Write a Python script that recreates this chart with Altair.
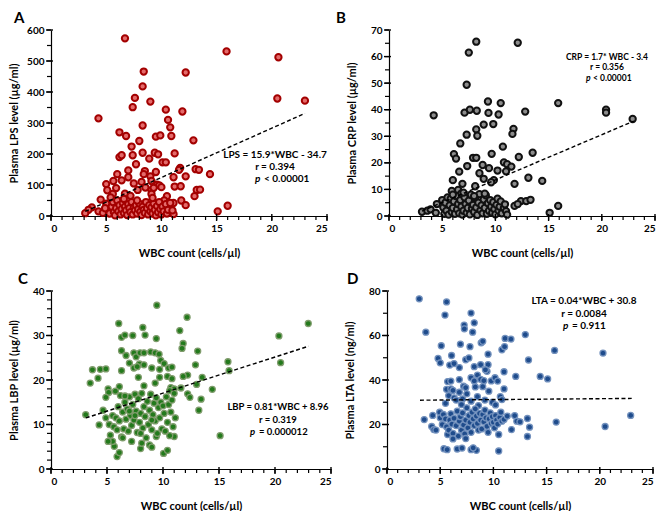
import altair as alt
import pandas as pd

FONT = "Lato"

# ---------------- data ----------------
lps_x = [6.7,15.9,20.6,8.4,12.2,8.3,7.6,9.0,7.4,20.5,23.0,4.3,10.4,11.9,10.6,8.3,10.8,6.2,6.8,10.9,9.5,9.9,12.9,8.0,7.3,11.2,6.2,6.4,7.4,8.3,9.4,9.7,10.1,10.4,8.9,7.7,11.7,11.6,13.1,13.4,14.4,6.0,8.5,8.4,7.0,9.5,9.0,11.1,12.2,7.0,6.4,5.65,8.2,9.6,9.8,5.0,7.5,9.1,5.9,5.1,9.1,8.55,9.3,10.0,11.2,11.75,13.2,13.5,7.85,6.7,5.6,9.1,10.5,13.0,4.5,7.2,11.8,10.25,11.1,12.2,16.0,15.1,3.7,3.4,4.3,3.1,11.1,
         5.0,5.2,5.3,5.5,5.6,5.7,5.8,5.9,6.0,6.1,6.2,6.3,6.4,6.5,6.6,6.7,6.8,6.9,7.0,7.1,7.2,7.3,7.4,7.5,7.6,7.7,7.8,7.9,8.0,8.1,8.2,8.3,8.4,8.5,8.6,8.7,8.8,8.9,9.0,9.1,9.2,9.3,9.4,9.5,9.6,9.7,9.8,9.9,10.0,10.1,10.2,10.4,10.5,10.6,10.8,11.0,5.4,6.6,7.8,9.2,4.7,4.9]
lps_y = [573,531,512,466,463,418,381,369,351,379,372,315,343,337,310,292,286,270,258,258,256,260,244,242,224,202,190,196,196,204,204,199,173,173,185,167,155,149,151,149,135,135,145,135,147,142,128,125,128,125,115,113,110,101,99,103,105,113,90,83,83,92,91,93,95,96,84,85,84,72,71,71,64,64,53,65,50,50,42,35,33,15,28,20,15,9,6,
         40,20,8,30,45,12,2,25,50,15,35,5,22,42,10,30,18,3,38,25,12,45,5,28,18,35,8,22,40,14,3,30,20,10,45,25,5,35,15,28,8,40,20,2,32,12,45,22,5,30,15,38,8,20,42,18,60,55,50,58,10,25]

crp_x = [8.2,12.1,7.5,7.3,15.9,9.3,10.5,4.2,7.1,7.6,8.25,9.35,10.3,12.8,20.4,20.4,22.9,8.9,9.8,11.7,11.6,8.2,8.3,7.3,6.7,10.7,6.1,6.3,9.65,13.5,12.2,7.9,8.2,7.35,8.8,9.4,10.8,11.1,11.5,11.0,10.2,6.6,8.5,14.4,13.1,6.0,8.9,9.85,9.6,11.8,6.9,5.9,6.5,6.8,8.1,12.4,12.9,13.3,11.8,12.1,15.9,15.1,3.1,3.6,3.9,4.4,4.5,
         5.0,5.1,5.2,5.3,5.4,5.5,5.6,5.7,5.8,5.9,6.0,6.1,6.2,6.3,6.4,6.5,6.6,6.7,6.8,6.9,7.0,7.1,7.2,7.3,7.4,7.5,7.6,7.7,7.8,7.9,8.0,8.1,8.2,8.3,8.4,8.5,8.6,8.7,8.8,8.9,9.0,9.1,9.2,9.3,9.4,9.5,9.6,9.7,9.8,9.9,10.0,10.1,10.2,10.3,10.4,10.5,10.6,10.8,10.9,11.0,11.1,7.0,8.0,9.0,6.0]
crp_y = [65.6,65.2,61.5,49.4,42.5,43.1,42.5,37.9,38.9,40.0,39.6,38.8,38.2,39.3,40.0,38.9,36.5,34.4,34.6,32.8,30.9,32.6,30.2,30.6,27.3,26.1,23.3,21.6,23.4,23.8,22.2,21.9,21.9,18.8,19.2,18.0,20.2,19.5,18.6,16.8,17.1,16.7,16.1,13.2,14.4,13.5,14.0,13.5,12.7,12.1,12.1,9.4,9.8,8.5,11.2,5.6,5.6,6.1,3.8,4.5,3.8,1.2,1.6,2.0,2.5,1.2,4.5,
         6.0,3.2,0.8,5.0,2.0,7.0,0.5,4.0,6.5,1.5,3.0,5.5,0.8,7.5,2.5,4.5,1.0,6.0,3.5,0.5,2.0,7.0,4.5,1.2,3.0,5.8,0.6,8.0,2.8,4.2,1.5,6.8,3.2,0.4,5.0,8.2,2.2,4.0,1.0,6.2,3.0,7.8,0.8,4.8,2.0,6.0,3.5,1.2,5.2,2.6,0.6,4.2,6.5,2.0,3.5,5.5,1.0,3.0,4.4,1.8,0.5,8.8,7.5,8.4,8.0]

lbp_x = [9.45,12.15,6.05,8.2,22.97,11.5,6.3,6.6,7.3,8.4,9.4,20.35,11.8,11.7,6.3,7.4,7.6,7.95,8.3,8.9,9.3,9.65,13.1,6.7,9.8,10.1,7.0,7.9,8.3,12.9,15.8,20.5,7.4,7.7,6.3,9.0,9.7,10.5,10.8,3.7,4.4,4.9,15.9,12.2,4.2,7.8,9.7,10.4,10.8,11.8,13.5,3.5,9.3,8.3,13.0,5.1,5.15,6.1,5.75,10.7,11.0,11.6,14.4,12.2,10.6,3.1,15.1,13.2,13.4,12.4,11.1,4.3,4.9,4.65,4.9,5.9,6.1,5.65,5.5,5.1,5.3,8.0,8.1,8.8,9.0,7.2,9.4,10.05,10.4,11.0,
         5.2,5.5,5.6,5.8,5.9,6.0,6.1,6.2,6.3,6.4,6.5,6.6,6.7,6.8,6.9,7.0,7.1,7.2,7.3,7.4,7.5,7.6,7.7,7.8,7.9,8.0,8.1,8.2,8.3,8.4,8.5,8.6,8.7,8.8,8.9,9.0,9.1,9.2,9.3,9.4,9.5,9.6,9.7,9.8,9.9,10.0,10.1,10.2,10.3,10.4,10.5,10.6,10.7,10.8,10.9,11.0,6.6,7.0,8.0,9.0,6.4,7.5]
lbp_y = [36.8,34.1,32.7,31.8,32.7,31.1,29.6,30.1,30.0,30.1,29.3,29.9,28.2,27.1,26.6,26.1,25.2,26.1,26.1,26.3,26.1,25.8,26.5,25.5,24.4,23.7,23.8,23.6,23.4,23.4,24.1,23.9,22.7,23.0,22.1,22.7,22.4,22.7,22.9,22.3,22.4,22.5,22.1,21.1,20.4,20.6,20.6,20.8,20.3,20.8,20.6,19.3,19.3,18.7,19.0,18.0,17.2,18.5,17.5,18.3,18.0,18.2,17.9,16.9,17.6,12.2,7.5,13.2,15.7,16.1,11.5,9.9,11.5,13.2,16.1,2.8,3.7,5.1,6.2,6.2,7.6,4.6,5.8,5.4,4.9,6.2,7.3,3.5,4.2,7.3,
         10.0,12.0,9.5,11.5,8.8,14.0,10.8,16.5,7.2,12.8,9.0,15.0,11.2,13.5,8.5,16.2,12.0,9.8,14.5,11.0,16.8,13.0,8.2,15.8,10.5,12.5,17.0,9.2,14.0,11.8,7.0,15.2,10.0,13.2,16.8,8.8,12.2,14.8,10.8,16.0,8.0,13.8,11.5,15.0,9.0,14.2,12.5,8.5,16.2,10.5,14.5,7.5,12.8,15.5,9.5,17.0,16.4,13.0,8.0,11.0,7.0,12.0]

lta_x = [3.03,5.6,5.45,3.65,7.9,7.25,7.27,8.2,8.05,6.9,5.1,7.8,8.85,9.0,6.07,9.5,4.8,5.0,7.4,7.7,5.9,6.3,6.8,8.2,8.8,9.5,9.4,9.25,8.5,6.8,7.9,8.8,9.1,5.7,6.0,9.8,10.15,10.4,8.2,7.2,7.4,9.0,8.3,5.6,6.0,6.2,11.0,9.57,11.1,11.65,13.0,10.8,11.05,13.3,12.1,11.0,10.65,10.8,15.75,20.3,14.4,15.1,22.9,15.9,20.5,13.4,13.2,13.2,
         5.8,6.3,6.8,7.1,7.5,7.9,8.5,9.2,9.9,10.2,5.5,6.5,7.0,8.6,
         3.5,4.3,4.95,4.2,4.4,4.6,5.0,5.2,5.3,5.5,5.6,5.7,5.8,5.9,6.0,6.1,6.2,6.3,6.5,6.6,6.7,6.8,6.9,7.0,7.1,7.2,7.3,7.4,7.5,7.6,7.7,7.8,7.9,8.0,8.1,8.2,8.3,8.4,8.5,8.6,8.7,8.8,8.9,9.0,9.1,9.2,9.3,9.4,9.5,9.6,9.7,9.8,9.9,10.0,10.1,10.2,10.3,10.4,10.5,10.6,10.7,10.8,11.0,11.3,11.7,12.2,12.5,12.0,7.4,6.2,
         5.35,5.65,6.6,7.05,7.9,8.4,10.5,8.1]
lta_y = [76.5,75.1,69.2,61.5,70.1,64.7,63.0,65.7,61.5,56.1,55.4,55.0,56.7,57.4,51.0,51.6,49.7,47.7,49.1,49.9,46.7,47.4,45.6,46.0,46.9,46.9,43.9,44.6,42.2,40.2,41.0,40.3,39.7,39.3,39.5,39.6,41.0,39.5,39.6,37.2,36.6,37.0,36.9,35.8,36.0,35.3,36.0,35.0,58.7,58.4,60.4,53.6,55.0,49.0,41.6,43.7,32.5,31.2,53.3,52.1,41.6,40.5,24.1,21.1,19.1,18.8,22.7,14.6,
         33.0,32.0,34.5,31.5,33.8,30.5,32.5,31.0,30.0,28.8,29.5,31.0,29.0,28.5,
         22.2,24.1,25.5,19.1,17.7,17.5,23.0,20.0,24.5,22.5,19.0,15.5,17.5,22.0,24.8,20.2,16.0,22.8,19.5,26.0,14.8,21.5,23.5,17.5,25.2,19.8,15.8,22.0,27.5,18.5,24.0,21.0,16.5,25.5,22.5,19.5,27.0,23.8,20.5,17.5,25.0,22.0,18.0,24.5,21.2,26.5,23.0,19.2,16.5,22.5,25.2,20.5,23.5,21.0,18.5,24.0,22.0,20.2,15.5,23.2,25.5,21.5,22.3,23.8,17.7,21.5,21.2,24.0,13.7,13.5,
         9.1,8.7,9.0,9.4,8.7,8.4,8.1,9.5]

fit_x = [3.1, 23.0]          # range of the dashed fitted lines
x_minor = list(range(0, 26))
x_major = [0, 5, 10, 15, 20, 25]
x_title = "WBC count (cells/µl)"


def panel(xs, ys, slope, intercept, fill, stroke, sw, size, ytitle, ymax, ystep, ylab,
          letter, letter_dx, eq, rtxt, ptxt, cx, ty, px, restx, fs, w, h):
    pts_df = pd.DataFrame({"x": xs, "y": ys})
    xsc = alt.Scale(domain=[0, 25], nice=False)
    ysc = alt.Scale(domain=[0, ymax], nice=False)
    xax = alt.Axis(values=x_major, title=x_title, ticks=False, labelOverlap=False,
                   labelPadding=7)
    y_minor = [v * ystep for v in range(int(round(ymax / ystep)) + 1)]
    y_major = [v for v in y_minor if v % ylab == 0]
    yax = alt.Axis(values=y_major, title=ytitle, ticks=False, labelOverlap=False,
                   labelPadding=7)
    X = alt.X("x:Q", scale=xsc, axis=xax)
    Y = alt.Y("y:Q", scale=ysc, axis=yax)

    pts = alt.Chart(pts_df).mark_circle(fill=fill, stroke=stroke, strokeWidth=sw,
                                        size=size, opacity=1).encode(x=X, y=Y)
    line = alt.Chart(pd.DataFrame({"x": fit_x})).transform_calculate(
        y=f"{slope} * datum.x + {intercept}"
    ).mark_line(color="black", strokeDash=[4, 2.5], strokeWidth=1.4).encode(x=X, y=Y)

    # tick marks: small tick glyphs placed through the same scales
    xt_min = alt.Chart(pd.DataFrame({"x": x_minor})).mark_tick(
        color="black", thickness=1.2, size=4, orient="vertical", opacity=1).encode(
        x=X, y=alt.value(h + 2))
    xt_maj = alt.Chart(pd.DataFrame({"x": x_major})).mark_tick(
        color="black", thickness=1.4, size=7, orient="vertical", opacity=1).encode(
        x=X, y=alt.value(h + 1.5))
    yt_min = alt.Chart(pd.DataFrame({"y": y_minor})).mark_tick(
        color="black", thickness=1.2, size=4, orient="horizontal", opacity=1).encode(
        y=Y, x=alt.value(-2))
    yt_maj = alt.Chart(pd.DataFrame({"y": y_major})).mark_tick(
        color="black", thickness=1.4, size=7, orient="horizontal", opacity=1).encode(
        y=Y, x=alt.value(-1.5))

    def txt(s, x, y, align="center", style="normal"):
        return alt.Chart(pd.DataFrame({"t": [s]})).mark_text(
            font=FONT, fontSize=fs, fontWeight="bold", fontStyle=style, align=align,
            baseline="middle", color="black").encode(
            text="t:N", x=alt.value(x), y=alt.value(y))

    layers = [pts, line, xt_min, xt_maj, yt_min, yt_maj,
              txt(eq, cx, ty[0]), txt(rtxt, cx, ty[1]),
              txt("p", px, ty[2], align="left", style="italic"),
              txt(ptxt, restx, ty[2], align="left")]
    return alt.layer(*layers).properties(
        width=w, height=h,
        title=alt.TitleParams(letter, anchor="start", dx=letter_dx, fontSize=15,
                              fontWeight="bold", font=FONT, offset=-1, color="black",
                              frame="bounds"))


A = panel(lps_x, lps_y, 15.9, -34.7, "#e46a6a", "#a30000", 2, 40,
          "Plasma LPS level (µg/ml)", 600, 50, 100,
          "A", 6, "LPS = 15.9*WBC - 34.7", "r = 0.394", "< 0.00001",
          224, [125, 137, 149], 204, 213, 10, 276, 186)
B = panel(crp_x, crp_y, 1.7, -3.4, "#8c8c8c", "#111111", 2, 40,
          "Plasma CRP level (µg/ml)", 70, 5, 10,
          "B", -10, "CRP = 1.7* WBC - 3.4", "r = 0.356", "< 0.00001",
          218, [27, 37, 48], 197, 204, 8.5, 266, 186)
C = panel(lbp_x, lbp_y, 0.81, 8.96, "#237a1c", "#7f9c6c", 1.3, 36,
          "Plasma LBP level (µg/ml)", 40, 2, 10,
          "C", 10, "LBP = 0.81*WBC + 8.96", "r = 0.319", "= 0.000012",
          227, [116, 129, 141], 199, 208, 9.5, 280, 178)
D = panel(lta_x, lta_y, 0.04, 30.8, "#1f4c8c", "#7391bd", 1.3, 36,
          "Plasma LTA level (ng/ml)", 80, 10, 20,
          "D", 3, "LTA = 0.04*WBC + 30.8", "r = 0.0084", "= 0.911",
          197, [10, 23, 35], 176, 185, 10, 266, 178)

chart = alt.vconcat(
    alt.hconcat(A, B, spacing=8),
    alt.hconcat(C, D, spacing=12),
    spacing=14,
).properties(padding={"left": 0, "top": 3, "right": 0, "bottom": 0}).configure_axis(
    grid=False, domainColor="black", labelColor="black",
    titleColor="black", labelFont=FONT, titleFont=FONT, labelFontWeight="bold",
    titleFontWeight="bold", labelFontSize=10, titleFontSize=11,
    domainWidth=1.2, minExtent=26,
).configure_axisX(titlePadding=5).configure_axisY(titlePadding=6).configure_view(stroke=None)

chart.save("out.html", embed_options={"renderer": "svg", "actions": False})
